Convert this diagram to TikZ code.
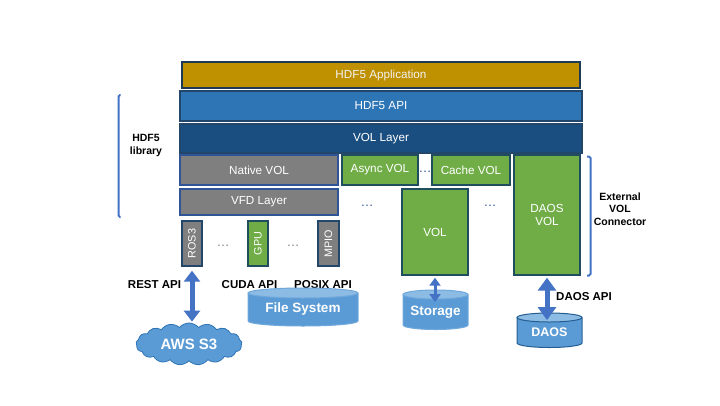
\documentclass[tikz,border=0pt]{standalone}
\usepackage{fontspec}
\setmainfont{Liberation Sans}
\usetikzlibrary{arrows.meta,shapes.symbols}
\definecolor{cgold}{HTML}{BF9000}
\definecolor{capi}{HTML}{2E75B6}
\definecolor{cvol}{HTML}{1B4E80}
\definecolor{cgray}{HTML}{7F7F7F}
\definecolor{cgreen}{HTML}{70AD47}
\definecolor{cbord}{HTML}{23476B}
\definecolor{cgbord}{HTML}{1F4E5F}
\definecolor{carrow}{HTML}{4472C4}
\definecolor{ccyl}{HTML}{5B9BD5}
\definecolor{ccyltop}{HTML}{8CBBE4}
\definecolor{ccylline}{HTML}{6FA8DC}
\definecolor{cdots}{HTML}{2F5597}
\newcommand\mycyl[8]{%
  \pgfmathsetmacro\cxm{(#1+#2)/2}%
  \pgfmathsetmacro\rxm{(#2-#1)/2}%
  \pgfmathsetmacro\cym{(#3+#4+#5)/2}%
  \pgfmathsetmacro\hm{#4+#5-#3+#5}%
  \fill[ccyl] (#1,#3) rectangle (#2,#4);
  \fill[ccyl] (\cxm,#4) ellipse [x radius=\rxm pt, y radius=#5 pt];
  \draw[#8, line width=1pt] (#1,#3) -- (#1,#4) arc[start angle=180,end angle=360,x radius=\rxm pt,y radius=#5 pt] -- (#2,#3);
  \filldraw[fill=ccyltop, draw=#8, line width=1pt] (\cxm,#3) ellipse [x radius=\rxm pt, y radius=#5 pt];
  \node[cyltext, minimum width=#2pt-#1pt, minimum height=\hm pt] (#6) at (\cxm,\cym) {#7};
}
\begin{document}
\begin{tikzpicture}[x=1pt,y=-1pt,
  box/.style={draw=cbord, line width=1.4pt, text=white, inner sep=0pt,
    font=\fontsize{11.7}{13.7}\selectfont, align=center},
  gbox/.style={box, fill=cgreen, draw=cgbord},
  vbox/.style={box, fill=cgray, draw=cbord, font=\fontsize{10.5}{12}\selectfont},
  lbl/.style={font=\fontsize{10.5}{12.5}\selectfont\bfseries, align=center, inner sep=0pt},
  albl/.style={lbl, font=\fontsize{11.5}{13}\selectfont\bfseries},
  rtext/.style={text=white, font=\fontsize{10.8}{12}\selectfont, rotate=90, inner sep=0pt},
  dts/.style={font=\fontsize{13}{15}\selectfont, inner sep=0pt},
  cyltext/.style={font=\fontsize{13.5}{15}\selectfont\bfseries, text=white, inner sep=0pt},
  dbl/.style={draw=carrow, line width=5pt, {Triangle[width=16pt,length=11pt]}-{Triangle[width=16pt,length=11pt]}},
  brk/.style={draw=carrow, line width=2pt, rounded corners=1.5pt}]
\useasboundingbox (0,0) rectangle (720,405);
\fill[white] (0,0) rectangle (720,405);

% layers
\node[box, fill=cgold, draw=cbord!80!black, text=white!95!black, minimum width=398pt, minimum height=26pt] (app) at (381,75) {HDF5 Application};
\node[box, fill=capi, minimum width=402pt, minimum height=30pt] (api) at (381,106) {HDF5 API};
\node[box, fill=cvol, minimum width=402pt, minimum height=29pt] (vollayer) at (381,138.5) {VOL Layer};
\node[box, fill=cgray, draw=cdots, minimum width=158pt, minimum height=30pt] (native) at (259,170) {Native VOL};
\node[gbox, minimum width=76pt, minimum height=30pt] (async) at (380,170) {Async VOL};
\node[gbox, minimum width=78pt, minimum height=30pt] (cache) at (471,170) {Cache VOL};
\node[gbox, minimum width=66pt, minimum height=120pt] (daosvol) at (547,215) {DAOS\\VOL};
\node[box, fill=cgray, draw=cdots, minimum width=158pt, minimum height=26pt] (vfd) at (259,202) {VFD Layer};
\node[gbox, minimum width=66pt, minimum height=86pt] (vol) at (435,232) {VOL};

% drivers
\node[vbox, minimum width=20pt, minimum height=45pt] (ros3) at (192,243.5) {};
\node[rtext] (ros3t) at (ros3.center) {ROS3};
\node[vbox, fill=cgreen, draw=cgbord, minimum width=20pt, minimum height=45pt] (gpu) at (258,243.5) {};
\node[rtext] (gput) at (gpu.center) {GPU};
\node[vbox, minimum width=21pt, minimum height=45pt] (mpio) at (328.5,243.5) {};
\node[rtext] (mpiot) at (mpio.center) {MPIO};

% dots
\node[dts, text=cdots] (d1) at (425,172) {…};
\node[dts, text=cdots] (d2) at (367,206) {…};
\node[dts, text=cdots] (d3) at (490,206) {…};
\node[dts, text=cgray] (d4) at (223,246) {…};
\node[dts, text=cgray] (d5) at (293,246) {…};

% labels
\node[albl] (rest) at (154.5,285) {REST API};
\node[albl] (cuda) at (249.5,285) {CUDA API};
\node[albl] (posix) at (323,285) {POSIX API};
\node[albl] (daosapi) at (584,297) {DAOS API};
\node[lbl] (lib) at (146,145.5) {HDF5\\library};
\node[lbl] (ext) at (620,209) {External\\VOL\\Connector};

% brackets
\draw[brk] (120.5,95) -| (118.5,217) -- (120.5,217);
\draw[brk] (587,156.5) -| (590.5,275.5) -- (587,275.5);

% cloud
\node[cloud, cloud puffs=17, cloud puff arc=100, aspect=2.6, fill=ccyl, draw=capi, line width=0.8pt,
  minimum width=106pt, minimum height=42pt, inner sep=0pt, text=white,
  font=\fontsize{15}{17}\selectfont\bfseries] (aws) at (189,344) {AWS S3};

% cylinders
\mycyl{248}{358}{293}{321}{5}{fs}{File System}{ccylline}
\mycyl{403}{468}{294.5}{325}{4.5}{stor}{Storage}{ccylline}
\mycyl{517}{582}{317.5}{343}{4.5}{daos}{\fontsize{12.5}{14}\selectfont DAOS}{capi!80!black}

% arrows
\draw[dbl, shorten <=4pt, shorten >=1pt] (ros3.south) -- (ros3.south |- aws.north);
\draw[dbl, line width=3pt, {Triangle[width=11pt,length=8pt]}-{Triangle[width=11pt,length=8pt]}, shorten <=2pt, shorten >=-10pt] (vol.south) -- (vol.south |- stor.north);
\draw[dbl, {Triangle[width=18pt,length=13pt]}-{Triangle[width=18pt,length=13pt]}, shorten <=2pt, shorten >=-5pt] (daosvol.south) -- (daosvol.south |- daos.north);
\end{tikzpicture}
\end{document}
